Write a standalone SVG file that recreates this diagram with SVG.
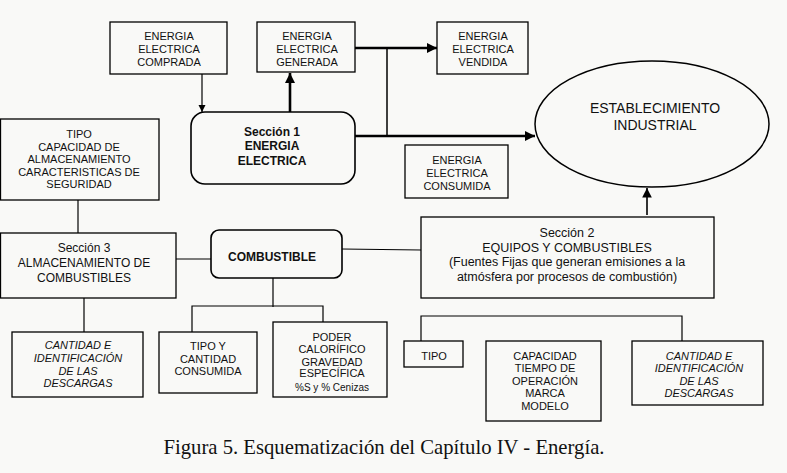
<svg xmlns="http://www.w3.org/2000/svg" width="787" height="473" viewBox="0 0 787 473">
<style>
.bx{fill:none;stroke:#000;stroke-width:1.3}
.t{font-family:"Liberation Sans",Arial,sans-serif;font-size:11px;fill:#111;text-anchor:middle}
.i{font-style:italic}
.b{font-weight:bold;font-size:12px}
.m{font-size:12px}
.ln{fill:none;stroke:#000;stroke-width:1.2}
.th{fill:none;stroke:#000;stroke-width:2.6}
</style>
<defs>
<marker id="ah" viewBox="0 0 10 10" refX="10" refY="5" markerWidth="4" markerHeight="4" orient="auto" markerUnits="strokeWidth"><path d="M0,0 L10,5 L0,10 z" fill="#000"/></marker>
<marker id="ahs" viewBox="0 0 10 10" refX="10" refY="5" markerWidth="6" markerHeight="6" orient="auto" markerUnits="strokeWidth"><path d="M0,0 L10,5 L0,10 z" fill="#000"/></marker>
</defs>
<rect width="787" height="473" fill="#f9f9f7"/>
<g id="connectors">
<path class="ln" d="M202,74 V112" marker-end="url(#ahs)"/>
<path class="th" d="M290,112 V73" marker-end="url(#ah)"/>
<path class="th" d="M355,48 H437" marker-end="url(#ah)"/>
<path class="ln" style="stroke-width:1.5" d="M387,48 V136"/>
<path class="th" d="M355,136 H535" marker-end="url(#ah)"/>
<path class="ln" style="stroke-width:1.6" d="M647,215 V188" marker-end="url(#ahs)"/>
<path class="ln" d="M78,200 V233"/>
<path class="ln" d="M176,259 H211"/>
<path class="ln" d="M342,249 L421,250"/>
<path class="ln" d="M84,298 V332"/>
<path class="ln" d="M273,278 V307"/>
<path class="ln" d="M192,332 V306 H323 V322"/>
<path class="ln" d="M421,341 V316 H682 V341"/>
</g>
<g id="n-comprada"><rect class="bx" x="110" y="22" width="117" height="52"/>
<text class="t"><tspan x="169" y="40">ENERGIA</tspan><tspan x="169" y="53">ELECTRICA</tspan><tspan x="169" y="66">COMPRADA</tspan></text></g>
<g id="n-generada"><rect class="bx" x="257" y="22" width="98" height="50"/>
<text class="t"><tspan x="307" y="40">ENERGIA</tspan><tspan x="307" y="53">ELECTRICA</tspan><tspan x="307" y="66">GENERADA</tspan></text></g>
<g id="n-vendida"><rect class="bx" x="437" y="22" width="91" height="52"/>
<text class="t"><tspan x="483" y="40">ENERGIA</tspan><tspan x="483" y="53">ELECTRICA</tspan><tspan x="483" y="66">VENDIDA</tspan></text></g>
<g id="n-seccion1"><rect class="bx" style="stroke-width:1.6" x="191" y="112" width="164" height="72" rx="14"/>
<text class="t b"><tspan x="272" y="136">Sección 1</tspan><tspan x="272" y="150">ENERGIA</tspan><tspan x="272" y="165">ELECTRICA</tspan></text></g>
<g id="n-consumida"><rect class="bx" x="405" y="145" width="103" height="53"/>
<text class="t"><tspan x="457" y="164">ENERGIA</tspan><tspan x="457" y="177">ELECTRICA</tspan><tspan x="457" y="190">CONSUMIDA</tspan></text></g>
<g id="n-establecimiento"><ellipse class="bx" style="stroke-width:1.5" cx="652" cy="124" rx="117" ry="63"/>
<text class="t" style="font-size:14px"><tspan x="655" y="113">ESTABLECIMIENTO</tspan><tspan x="655" y="130">INDUSTRIAL</tspan></text></g>
<g id="n-tipo-alm"><rect class="bx" x="0.5" y="119" width="158.5" height="81"/>
<text class="t"><tspan x="79" y="138">TIPO</tspan><tspan x="79" y="151">CAPACIDAD DE</tspan><tspan x="79" y="163">ALMACENAMIENTO</tspan><tspan x="79" y="176">CARACTERISTICAS DE</tspan><tspan x="79" y="188">SEGURIDAD</tspan></text></g>
<g id="n-seccion3"><rect class="bx" x="0.5" y="233" width="175.5" height="65"/>
<text class="t m"><tspan x="84" y="252">Sección 3</tspan><tspan x="84" y="267">ALMACENAMIENTO  DE</tspan><tspan x="84" y="282">COMBUSTIBLES</tspan></text></g>
<g id="n-combustible"><rect class="bx" style="stroke-width:1.6" x="211" y="230" width="131" height="48" rx="8"/>
<text class="t b" x="272" y="261">COMBUSTIBLE</text></g>
<g id="n-seccion2"><rect class="bx" x="421" y="217" width="293" height="81"/>
<text class="t" style="font-size:12.5px"><tspan x="567" y="237">Sección 2</tspan><tspan x="567" y="252">EQUIPOS Y COMBUSTIBLES</tspan><tspan x="567" y="266">(Fuentes Fijas que generan emisiones a la</tspan><tspan x="567" y="281">atmósfera por procesos de combustión)</tspan></text></g>
<g id="n-cantidad-left"><rect class="bx" x="12" y="332" width="131" height="65"/>
<text class="t i"><tspan x="78" y="349">CANTIDAD E</tspan><tspan x="78" y="362">IDENTIFICACIÓN</tspan><tspan x="78" y="375">DE LAS</tspan><tspan x="78" y="387">DESCARGAS</tspan></text></g>
<g id="n-tipo-cantidad"><rect class="bx" x="159" y="332" width="98" height="61"/>
<text class="t"><tspan x="208" y="350">TIPO Y</tspan><tspan x="208" y="363">CANTIDAD</tspan><tspan x="208" y="375">CONSUMIDA</tspan></text></g>
<g id="n-poder"><rect class="bx" x="273" y="322" width="114" height="75"/>
<text class="t"><tspan x="332" y="341">PODER</tspan><tspan x="332" y="353">CALORÍFICO</tspan><tspan x="332" y="366">GRAVEDAD</tspan><tspan x="332" y="377">ESPECÍFICA</tspan><tspan x="332" y="391" style="font-size:10px">%S y % Cenizas</tspan></text></g>
<g id="n-tipo"><rect class="bx" x="404" y="341" width="59" height="26"/>
<text class="t" x="434" y="360">TIPO</text></g>
<g id="n-capacidad"><rect class="bx" x="486" y="341" width="115" height="80"/>
<text class="t"><tspan x="545" y="360">CAPACIDAD</tspan><tspan x="545" y="372">TIEMPO DE</tspan><tspan x="545" y="385">OPERACIÓN</tspan><tspan x="545" y="397">MARCA</tspan><tspan x="545" y="410">MODELO</tspan></text></g>
<g id="n-cantidad-right"><rect class="bx" x="632" y="341" width="131" height="64"/>
<text class="t i"><tspan x="699" y="360">CANTIDAD E</tspan><tspan x="699" y="372">IDENTIFICACIÓN</tspan><tspan x="699" y="385">DE LAS</tspan><tspan x="699" y="397">DESCARGAS</tspan></text></g>
<text x="384" y="454" style="font-family:'Liberation Serif','Times New Roman',serif;font-size:20.7px;fill:#111;text-anchor:middle">Figura 5. Esquematización del Capítulo IV - Energía.</text>
</svg>
